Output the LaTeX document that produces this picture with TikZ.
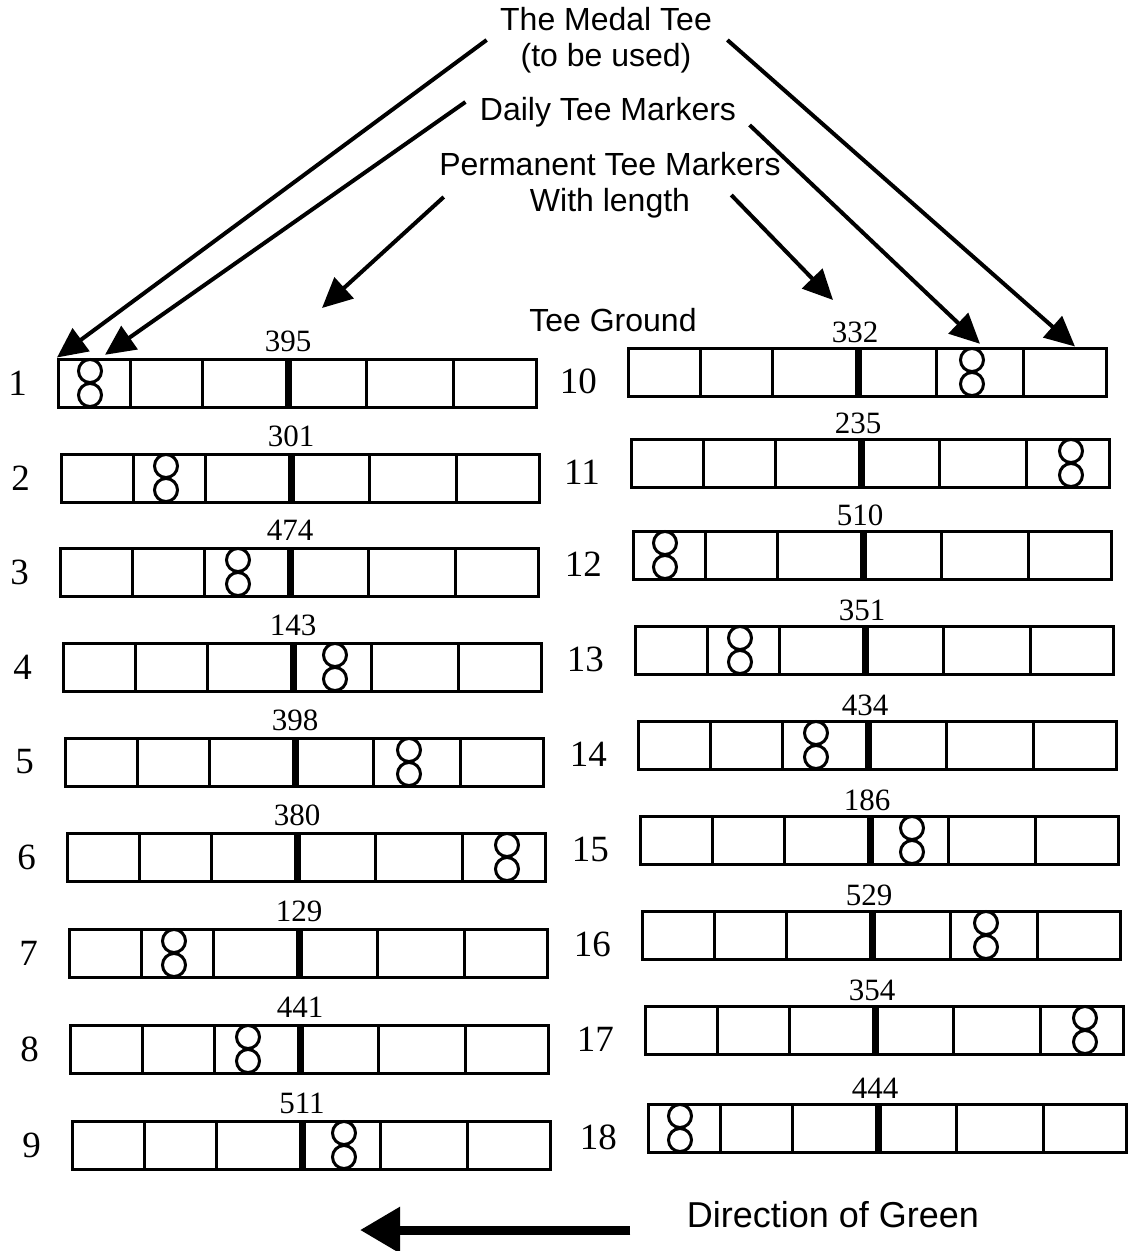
\documentclass[tikz,border=0pt]{standalone}
\usepackage{fontspec}
\setmainfont{Liberation Serif}
\setsansfont{Liberation Sans}
\usepackage{tikz}
\usetikzlibrary{arrows.meta, positioning, calc}

\begin{document}
\begin{tikzpicture}[
    x=1pt, y=-1pt,
    caption/.style={font=\sffamily\fontsize{32}{36}\selectfont, align=center},
    teebox/.style={draw, line width=3pt, anchor=west, inner sep=0pt, minimum width=478pt, minimum height=48pt,
        path picture={
            \foreach \cx in {72,144,308,395}
                \draw[line width=2.5pt] ([xshift=\cx pt]path picture bounding box.north west) -- ([xshift=\cx pt]path picture bounding box.south west);
            \draw[line width=6.5pt] ([xshift=230pt]path picture bounding box.north west) -- ([xshift=230pt]path picture bounding box.south west);
        }},
    marker/.style={inner sep=0pt, minimum width=32pt, minimum height=56pt,
        path picture={
            \draw[line width=3pt] ([yshift=12pt]path picture bounding box.center) circle[radius=11.5pt];
            \draw[line width=3pt] ([yshift=-12pt]path picture bounding box.center) circle[radius=11.5pt];
        }},
    yards/.style={font=\fontsize{31}{31}\selectfont, inner sep=0pt},
    hole/.style={font=\fontsize{37}{37}\selectfont, inner sep=0pt},
    arrow/.style={-{Triangle[length=30pt, width=28pt]}, line width=4pt},
    bigarrow/.style={-{Triangle[length=40pt, width=44pt]}, line width=9pt}
]
    \useasboundingbox (0,0) rectangle (1130,1251);

    % Legend
    \node[caption] (medal) at (606,40) {The Medal Tee\\(to be used)};
    \node[caption] (daily) at (608,112) {Daily Tee Markers};
    \node[caption] (perm) at (610,185) {Permanent Tee Markers\\With length};
    \node[caption] (ground) at (613,320) {Tee Ground};

    % Holes 1-9
    \foreach \n/\x/\y/\yd/\mk in {1/57/383/395/33, 2/60/478/301/106, 3/59/572/474/179,
        4/62/667/143/273, 5/64/762/398/345, 6/66/857/380/441,
        7/68/953/129/106, 8/69/1049/441/179, 9/71/1145/511/273} {
        \node[teebox] (t\n) at (\x,\y) {};
        \node[marker] (m\n) at ([xshift=\mk pt]t\n.west) {};
        \node[yards] (l\n) at ([xshift=231pt, yshift=42pt]t\n.west) {\yd};
        \node[hole, left=30pt of t\n] (h\n) {\n};
    }

    % Holes 10-18
    \foreach \n/\x/\y/\yd/\mk in {10/627/372/332/345, 11/630/463/235/441, 12/632/555/510/33,
        13/634/650/351/106, 14/637/745/434/179, 15/639/840/186/273,
        16/641/935/529/345, 17/644/1030/354/441, 18/647/1128/444/33} {
        \node[teebox] (t\n) at (\x,\y) {};
        \node[marker] (m\n) at ([xshift=\mk pt]t\n.west) {};
        \node[yards] (l\n) at ([xshift=228pt, yshift=40pt]t\n.west) {\yd};
        \node[hole, left=30pt of t\n, yshift=-9pt] (h\n) {\n};
    }

    % Pointers
    \coordinate (perm-l) at (322,308);
    \coordinate (perm-r) at (833,300);
    \draw[arrow] ([xshift=-10pt]medal.west) -- (t1.north west);
    \draw[arrow] ([xshift=12pt]medal.east) -- ([xshift=448pt]t10.north west);
    \draw[arrow] ([shift={(-11pt,10pt)}]daily.west) -- ([xshift=15pt]m1.north);
    \draw[arrow] ([shift={(10pt,-13pt)}]daily.east) -- ([xshift=8pt]m10.north);
    \draw[arrow] ([shift={(8pt,-12pt)}]perm.west) -- (perm-l);
    \draw[arrow] ([shift={(-53pt,-10pt)}]perm.east) -- (perm-r);

    % Direction of green
    \node[caption, font=\sffamily\fontsize{36}{40}\selectfont] (dir) at (833,1215) {Direction of Green};
    \coordinate (green) at (360,1230);
    \draw[bigarrow] ([shift={(-53pt,-15pt)}]dir.west) -- (green);
\end{tikzpicture}
\end{document}
